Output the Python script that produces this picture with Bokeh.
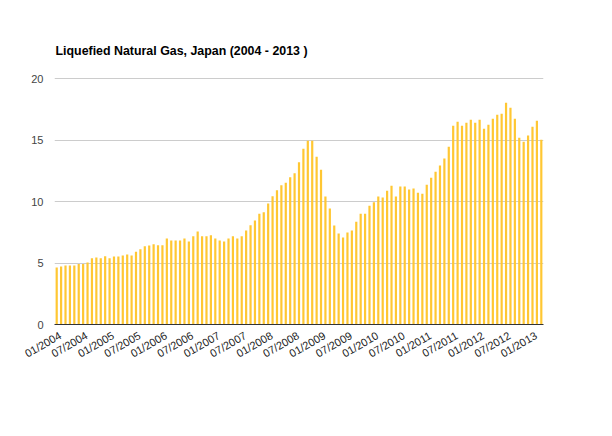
from bokeh.plotting import figure
from bokeh.models import Range1d, FixedTicker
from bokeh.embed import file_html
from bokeh.resources import INLINE
import math

# Monthly LNG price, Japan, 01/2004 .. 03/2013 (index = month number from 01/2004)
values = [
    4.63, 4.72, 4.80, 4.80, 4.80, 4.93, 4.93, 5.04, 5.39, 5.45, 5.39, 5.56,
    5.39, 5.53, 5.53, 5.61, 5.69, 5.61, 5.93, 6.12, 6.37, 6.42, 6.53, 6.45,
    6.45, 6.99, 6.83, 6.83, 6.83, 6.99, 6.75, 7.18, 7.56, 7.18, 7.18, 7.26,
    6.99, 6.83, 6.75, 6.99, 7.18, 6.99, 7.18, 7.64, 8.08, 8.46, 9.02, 9.13,
    9.84, 10.43, 10.92, 11.33, 11.54, 11.98, 12.30, 13.20, 14.31, 14.96, 14.96, 13.66,
    12.60, 10.41, 9.43, 8.05, 7.40, 7.07, 7.48, 7.64, 8.37, 9.02, 9.02, 9.67,
    9.95, 10.41, 10.33, 10.89, 11.30, 10.41, 11.22, 11.22, 10.98, 11.06, 10.73, 10.65,
    11.38, 11.95, 12.44, 12.93, 13.50, 14.47, 16.18, 16.50, 16.18, 16.42, 16.67, 16.42,
    16.67, 15.93, 16.26, 16.75, 17.07, 17.15, 18.05, 17.64, 16.75, 15.20, 14.88, 15.37,
    16.10, 16.59, 15.04,
]
months = list(range(len(values)))

tick_labels = [
    "01/2004", "07/2004", "01/2005", "07/2005", "01/2006", "07/2006",
    "01/2007", "07/2007", "01/2008", "07/2008", "01/2009", "07/2009",
    "01/2010", "07/2010", "01/2011", "07/2011", "01/2012", "07/2012", "01/2013",
]
y_ticks = [0, 5, 10, 15, 20]
title_text = "Liquefied Natural Gas, Japan (2004 - 2013 )"

FONT = "Liberation Sans"
LABEL_SHIFT = 0.8  # small horizontal nudge of the slanted labels (data units)

tick_pos = [6 * i + LABEL_SHIFT for i in range(len(tick_labels))]

p = figure(width=600, height=420, output_backend="svg", toolbar_location=None,
           x_range=Range1d(-0.5, len(values) - 0.5), y_range=Range1d(0, 20.1),
           min_border_left=54, min_border_right=57, min_border_top=77, min_border_bottom=96)
p.outline_line_color = None
p.background_fill_color = "white"
p.border_fill_color = "white"

p.title.text = title_text
p.title.align = "left"
p.title.text_font = FONT
p.title.text_font_size = "12.4px"
p.title.text_font_style = "bold"
p.title.text_color = "#000000"
p.title.standoff = 39
p.title.offset = 1

p.vbar(x=months, top=values, width=0.5, color="#ffc733", line_color=None)

# x axis
p.xaxis.ticker = FixedTicker(ticks=tick_pos)
p.xaxis.major_label_overrides = {t: l for t, l in zip(tick_pos, tick_labels)}
p.xaxis.major_label_orientation = math.pi / 6
p.xaxis.major_label_text_font = FONT
p.xaxis.major_label_text_font_size = "11px"
p.xaxis.major_label_text_color = "#222222"
p.xaxis.major_tick_line_color = None
p.xaxis.minor_tick_line_color = None
p.xaxis.major_tick_out = 0
p.xaxis.major_tick_in = 0
p.xaxis.major_label_standoff = 10
p.xaxis.axis_line_color = "#333333"
p.xaxis.axis_line_width = 1.2
p.xgrid.grid_line_color = None

# y axis
p.yaxis.ticker = FixedTicker(ticks=y_ticks)
p.yaxis.major_label_text_font = FONT
p.yaxis.major_label_text_font_size = "11px"
p.yaxis.major_label_text_color = "#444444"
p.yaxis.major_tick_line_color = None
p.yaxis.minor_tick_line_color = None
p.yaxis.major_tick_out = 0
p.yaxis.major_tick_in = 0
p.yaxis.major_label_standoff = 11
p.yaxis.axis_line_color = None
p.ygrid.grid_line_color = "#cccccc"
p.ygrid.ticker = FixedTicker(ticks=[5, 10, 15, 20])

open("out.html", "w").write(file_html(p, INLINE))
